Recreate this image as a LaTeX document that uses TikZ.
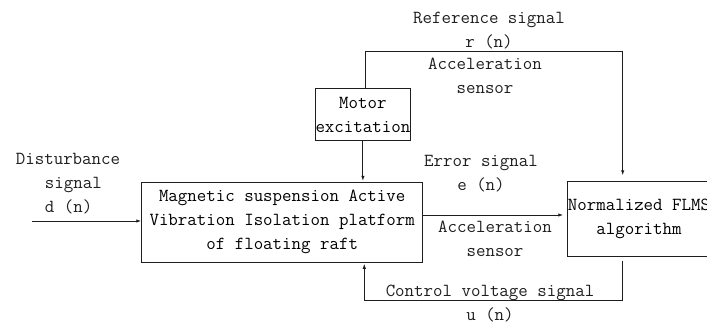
\documentclass[tikz,border=0pt]{standalone}
\usepackage{fontspec}
\usetikzlibrary{arrows.meta, positioning, calc}
\definecolor{ink}{RGB}{30, 30, 30}

\tikzset{
    block/.style={draw=ink, line width=0.9pt, inner sep=0pt, align=center},
    sig/.style={draw=ink, line width=0.9pt, -{Latex[length=5pt, width=3.5pt]}},
    lbl/.style={align=center, inner sep=0pt, text=ink},
}

\begin{document}
\begin{tikzpicture}[x=1pt, y=-1pt, font=\ttfamily\fontsize{18.4}{24}\selectfont]
                \clip (0,0) rectangle (707,324);
                \useasboundingbox (0,0) rectangle (707,324);

                % Blocks
                \node[block, minimum width=281pt, minimum height=80pt] (plant) at (282.2,222.3)
                    {Magnetic suspension Active\\Vibration Isolation platform\\of floating raft};
                \node[block, minimum width=92.8pt, minimum height=52.4pt] (motor) at (362.9,114.5)
                    {Motor\\excitation};
                \node[block, minimum width=142.6pt, minimum height=74.3pt] (flms) at (639,218.9)
                    {Normalized FLMS\\algorithm};

                % Corner points of the loops
                \coordinate (din) at (32,221);
                \coordinate (tl) at (365,51.7);
                \coordinate (tr) at (622.7,51.7);
                \coordinate (br) at (622.7,300.7);
                \coordinate (bl) at (364.3,300.7);

                % Signal paths
                \draw[sig] (din) -- (din -| plant.west);
                \draw[sig, shorten >=1pt] (motor.south) -- (motor.south |- plant.north);
                \draw[sig, shorten >=6pt] (motor.north -| tl) -- (tl) -- (tr) -- (tr |- flms.north);
                \draw[sig, shorten >=4pt] ([yshift=7.3pt]plant.east) -- ([yshift=7.3pt]plant.east -| flms.west);
                \draw[sig, shorten <=4pt, shorten >=1pt] (br |- flms.south) -- (br) -- (bl) -- (bl |- plant.south);

                % Labels
                \node[lbl] (refsig) at (489,30.5) {Reference signal\\r (n)};
                \node[lbl] (topsens) at (485,75.5) {Acceleration\\sensor};
                \node[lbl, align=left] (dist) at (68,184) {Disturbance\\\hspace*{29pt}signal\\\hspace*{29pt}d (n)};
                \node[lbl] (err) at (481,174) {Error signal\\e (n)};
                \node[lbl] (botsens) at (495,239) {Acceleration\\sensor};
                \node[lbl] (ctrl) at (490,303.2) {Control voltage signal\\u (n)};
            \end{tikzpicture}
\end{document}
